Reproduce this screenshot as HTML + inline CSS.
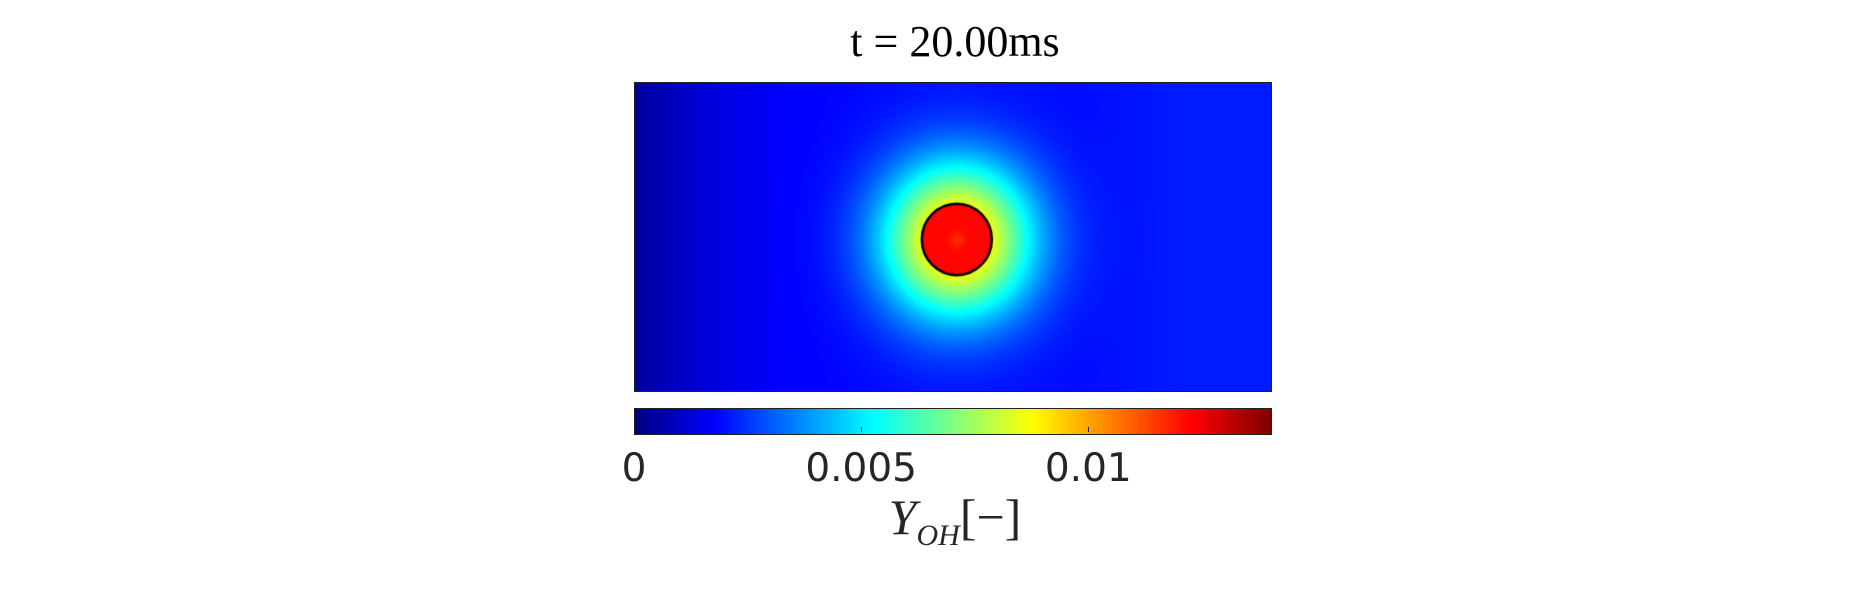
<!DOCTYPE html>
<html><head><meta charset="utf-8"><style>
body{margin:0;background:#fff;width:1875px;height:594px;overflow:hidden;position:relative;font-family:"Liberation Serif",serif}
.abs{position:absolute}
</style></head><body>
<div class="abs" style="left:755px;top:16px;width:400px;text-align:center;font-size:44px;color:#000;font-family:'Liberation Serif',serif">t = 20.00ms</div>
<canvas id="field" class="abs" width="636" height="308" style="left:634px;top:82px;border:1px solid #222;box-sizing:border-box"></canvas>
<canvas id="cbar" class="abs" width="636" height="25" style="left:634px;top:408px;border:1px solid #222;box-sizing:border-box"></canvas>
<div id="ticks"></div>
<div class="abs" style="left:835px;top:488px;width:240px;text-align:center;font-size:50px;color:#262626"><i>Y</i><sub style="font-size:30px"><i>OH</i></sub>[−]</div>
<script>
const tickValues=[0,0.005,0.01];
const tickLabels=["0","0.005","0.01"];
const cMin=0, cMax=0.014;
// background value profile across x (fraction of width -> value)
const bgX=[0,0.05,0.12,0.22,0.45,0.7,0.85,1];
const bgV=[0.0004,0.0008,0.0013,0.0017,0.0019,0.0019,0.0021,0.0021];
// flame kernel
const kernelCenter=[0.506,0.508]; // fraction of width/height
const kernelRadius=[35]; // px
const kernelInnerValue=[0.0122];
const plumeAmp=[0.0083], plumeSigma=[74];

function jet(t){t=Math.max(0,Math.min(1,t));
 const f=x=>Math.max(0,Math.min(1,x));
 return [f(1.5-Math.abs(4*t-3)),f(1.5-Math.abs(4*t-2)),f(1.5-Math.abs(4*t-1))].map(v=>Math.round(v*255));}
function interp(xs,ys,x){for(let i=1;i<xs.length;i++){if(x<=xs[i]){const u=(x-xs[i-1])/(xs[i]-xs[i-1]);return ys[i-1]+u*(ys[i]-ys[i-1]);}}return ys[ys.length-1];}

const fc=document.getElementById('field'),fx=fc.getContext('2d');
const W=fc.width,H=fc.height,img=fx.createImageData(W,H);
const cx=kernelCenter[0]*W,cy=kernelCenter[1]*H;
for(let y=0;y<H;y++)for(let x=0;x<W;x++){
 const dx=x-cx,dy=(y-cy)*0.97,r=Math.sqrt(dx*dx+dy*dy);
 let v;
 if(r<kernelRadius[0]) v=kernelInnerValue[0]-0.0005*Math.exp(-r*r/60);
 else v=interp(bgX,bgV,x/W)+plumeAmp[0]*Math.exp(-r*r/(plumeSigma[0]*plumeSigma[0]));
 const c=jet((v-cMin)/(cMax-cMin)),i=(y*W+x)*4;
 img.data[i]=c[0];img.data[i+1]=c[1];img.data[i+2]=c[2];img.data[i+3]=255;}
fx.putImageData(img,0,0);
fx.beginPath();fx.ellipse(cx,cy,kernelRadius[0],kernelRadius[0]*1.02,0,0,2*Math.PI);
fx.lineWidth=2.5;fx.strokeStyle='#000';fx.stroke();

const bc=document.getElementById('cbar'),bx=bc.getContext('2d');
for(let x=0;x<bc.width;x++){const c=jet(x/(bc.width-1));bx.fillStyle=`rgb(${c[0]},${c[1]},${c[2]})`;bx.fillRect(x,0,1,bc.height);}
const tk=document.getElementById('ticks');
const xScale=v=>634+(v-cMin)/(cMax-cMin)*636;
tickValues.forEach((v,i)=>{
 const X=xScale(v);
 const t=document.createElement('div');t.className='abs';
 
 
 t.style.cssText=`left:${X-0.5}px;top:427px;width:1px;height:5px;background:#222`;
 if(i>0)tk.appendChild(t);
 const l=document.createElement('div');l.className='abs';
 
 
 l.textContent=tickLabels[i];
 l.style.cssText=`left:${X-100}px;top:446px;width:200px;text-align:center;font-size:39px;color:#262626;font-family:'DejaVu Sans',sans-serif`;
 tk.appendChild(l);
});
</script>
</body></html>
